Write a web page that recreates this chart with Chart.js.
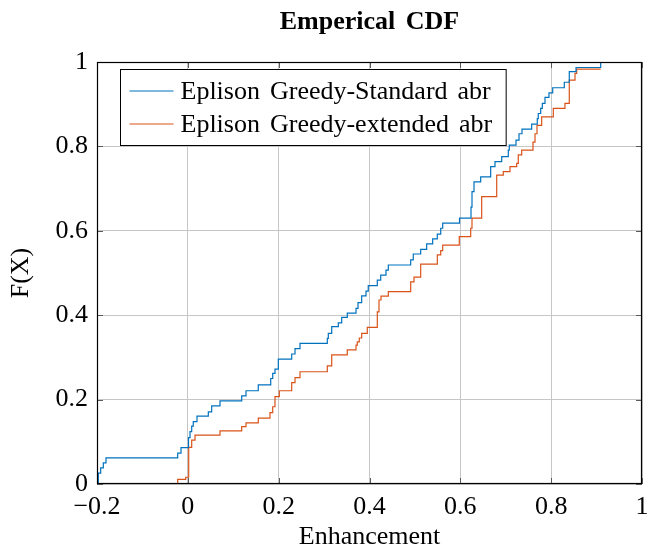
<!DOCTYPE html>
<html><head><meta charset="utf-8">
<script src="https://cdn.jsdelivr.net/npm/chart.js@4/dist/chart.umd.min.js"></script>
<style>html,body{margin:0;padding:0;background:#fff}#wrap{width:647px;height:550px}</style>
</head><body><div id="wrap"><canvas id="c" width="647" height="550"></canvas></div>
<script>
const chartTitle = 'Emperical CDF';
const xAxisTitle = 'Enhancement';
const yAxisTitle = 'F(X)';
const seriesLabels = ['Eplison Greedy-Standard abr', 'Eplison Greedy-extended abr'];
const seriesColors = ['rgb(0,114,189)', 'rgb(217,83,25)'];
const xTickLabels = ['\u22120.2', '0', '0.2', '0.4', '0.6', '0.8', '1'];
const yTickLabels = ['0', '0.2', '0.4', '0.6', '0.8', '1'];

const standardX = [-0.2, -0.1971, -0.1919, -0.1861, -0.1802, -0.0223, -0.0150, 0.0015, 0.0048, 0.0085, 0.0120, 0.0202, 0.0451, 0.0525, 0.0708, 0.1186, 0.1281, 0.1551, 0.1825, 0.1869, 0.1919, 0.1992, 0.2287, 0.2360, 0.2470, 0.3071, 0.3093, 0.3168, 0.3313, 0.3388, 0.3511, 0.3703, 0.3747, 0.3828, 0.3923, 0.3973, 0.4172, 0.4247, 0.4363, 0.4414, 0.4907, 0.4964, 0.5127, 0.5259, 0.5391, 0.5493, 0.5568, 0.5612, 0.5982, 0.6235, 0.6257, 0.6301, 0.6448, 0.6668, 0.6763, 0.6911, 0.7056, 0.7078, 0.7226, 0.7292, 0.7358, 0.7571, 0.7694, 0.7716, 0.7769, 0.7805, 0.7864, 0.7952, 0.8034, 0.8289, 0.8399, 0.8547, 0.9090];
const standardY = [0, 0.026, 0.038, 0.050, 0.062, 0.073, 0.086, 0.110, 0.124, 0.137, 0.148, 0.161, 0.171, 0.185, 0.197, 0.209, 0.221, 0.235, 0.250, 0.262, 0.272, 0.296, 0.308, 0.321, 0.333, 0.345, 0.357, 0.373, 0.382, 0.395, 0.405, 0.416, 0.430, 0.446, 0.457, 0.470, 0.483, 0.495, 0.507, 0.519, 0.531, 0.545, 0.556, 0.569, 0.581, 0.592, 0.606, 0.618, 0.630, 0.656, 0.693, 0.716, 0.728, 0.752, 0.764, 0.776, 0.791, 0.803, 0.815, 0.830, 0.841, 0.853, 0.866, 0.878, 0.890, 0.902, 0.916, 0.927, 0.939, 0.952, 0.977, 0.987, 1.0];

const extendedX = [-0.2, -0.0223, -0.0047, 0.0019, 0.0085, 0.0158, 0.0708, 0.1186, 0.1281, 0.1551, 0.1809, 0.1869, 0.1919, 0.2014, 0.2287, 0.2360, 0.2470, 0.3071, 0.3168, 0.3511, 0.3703, 0.3731, 0.3775, 0.3828, 0.3951, 0.4172, 0.4209, 0.4253, 0.4414, 0.4907, 0.4980, 0.5127, 0.5493, 0.5568, 0.5612, 0.5977, 0.6228, 0.6257, 0.6470, 0.6801, 0.6946, 0.7093, 0.7241, 0.7276, 0.7351, 0.7600, 0.7644, 0.7688, 0.7791, 0.8047, 0.8304, 0.8399, 0.8525, 0.8562, 0.9090];
const extendedY = [0, 0.011, 0.016, 0.087, 0.104, 0.116, 0.126, 0.136, 0.145, 0.156, 0.169, 0.183, 0.207, 0.221, 0.240, 0.252, 0.266, 0.280, 0.306, 0.318, 0.329, 0.337, 0.346, 0.357, 0.371, 0.408, 0.436, 0.445, 0.456, 0.479, 0.490, 0.521, 0.543, 0.553, 0.566, 0.586, 0.606, 0.630, 0.681, 0.732, 0.740, 0.752, 0.760, 0.780, 0.791, 0.810, 0.830, 0.850, 0.870, 0.890, 0.902, 0.957, 0.973, 0.983, 0.983];

const SERIF = '"Liberation Serif", "Times New Roman", serif';
const FS = 26;

function toPoints(xs, ys) { return xs.map((x, i) => ({ x: x, y: ys[i] })); }

const framePlugin = {
  id: 'frameAndLegend',
  afterDatasetsDraw(chart) {
    const { ctx, chartArea: a, scales } = chart;
    const xs = scales.x, ys = scales.y;
    ctx.save();
    // inward tick marks on all four sides
    ctx.strokeStyle = '#5a5a5a';
    ctx.lineWidth = 1;
    const L = 6;
    ctx.beginPath();
    xs.ticks.forEach(t => {
      const px = Math.round(xs.getPixelForValue(t.value)) + 0.5;
      ctx.moveTo(px, a.bottom); ctx.lineTo(px, a.bottom - L);
      ctx.moveTo(px, a.top); ctx.lineTo(px, a.top + L);
    });
    ys.ticks.forEach(t => {
      const py = Math.round(ys.getPixelForValue(t.value)) + 0.5;
      ctx.moveTo(a.left, py); ctx.lineTo(a.left + L, py);
      ctx.moveTo(a.right, py); ctx.lineTo(a.right - L, py);
    });
    ctx.stroke();
    // frame
    ctx.strokeStyle = '#000';
    ctx.lineWidth = 1.2;
    ctx.strokeRect(Math.round(a.left) + 0.5, Math.round(a.top) + 0.5, Math.round(a.width) - 1, Math.round(a.height) - 1);

    // title, centred over the plot area
    ctx.fillStyle = '#000';
    ctx.font = 'bold ' + FS + 'px ' + SERIF;
    ctx.textAlign = 'center';
    ctx.textBaseline = 'middle';
    ctx.wordSpacing = '4px';
    ctx.fillText(chartTitle, (a.left + a.right) / 2, 22);

    // legend box inside the plot
    ctx.font = FS + 'px ' + SERIF;
    ctx.wordSpacing = '3.5px';
    const ds = chart.data.datasets;
    let maxW = 0;
    ds.forEach(d => { maxW = Math.max(maxW, ctx.measureText(d.label).width); });
    const bx = a.left + 23.5, by = a.top + 7.5;
    const lineX0 = bx + 9, lineX1 = bx + 53, textX = bx + 60;
    const bw = (textX - bx) + maxW + 14;
    const bh = 76;
    ctx.fillStyle = '#fff';
    ctx.fillRect(bx, by, bw, bh);
    ctx.strokeStyle = '#000';
    ctx.lineWidth = 1;
    ctx.strokeRect(bx, by, bw, bh);
    const rows = [by + 21.5, by + 54.5];
    ds.forEach((d, i) => {
      ctx.strokeStyle = d.borderColor;
      ctx.lineWidth = 1.2;
      ctx.beginPath();
      ctx.moveTo(lineX0, rows[i]); ctx.lineTo(lineX1, rows[i]);
      ctx.stroke();
      ctx.fillStyle = '#000';
      ctx.textBaseline = 'middle';
      ctx.textAlign = 'left';
      ctx.fillText(d.label, textX, rows[i] + 1);
    });
    ctx.restore();
  }
};

new Chart(document.getElementById('c'), {
  type: 'line',
  data: {
    datasets: [
      { label: seriesLabels[0], data: toPoints(standardX, standardY), borderColor: seriesColors[0], backgroundColor: seriesColors[0], borderWidth: 1.2, pointRadius: 0, stepped: 'before', fill: false },
      { label: seriesLabels[1], data: toPoints(extendedX, extendedY), borderColor: seriesColors[1], backgroundColor: seriesColors[1], borderWidth: 1.2, pointRadius: 0, stepped: 'before', fill: false }
    ]
  },
  options: {
    responsive: false,
    animation: false,
    devicePixelRatio: 1,
    layout: { padding: { left: 0, right: 5, top: 62, bottom: 0 } },
    plugins: {
      legend: { display: false },
      tooltip: { enabled: false },
      title: { display: false }
    },
    scales: {
      x: {
        type: 'linear', min: -0.2, max: 1,
        grid: { color: '#c6c6c6', lineWidth: 1, drawTicks: false },
        border: { display: false },
        ticks: {
          stepSize: 0.2, color: '#000', padding: 8,
          font: { family: SERIF, size: FS, lineHeight: 1.2 },
          maxRotation: 0, autoSkip: false,
          callback: (v, i) => xTickLabels[i]
        },
        title: { display: true, text: xAxisTitle, color: '#000', font: { family: SERIF, size: FS, lineHeight: 1.0 }, padding: { top: -5, bottom: 0 } },
        afterFit: s => { s.height = 66; s.paddingLeft = 0; s.paddingRight = 0; }
      },
      y: {
        type: 'linear', min: 0, max: 1,
        grid: { color: '#c6c6c6', lineWidth: 1, drawTicks: false },
        border: { display: false },
        ticks: {
          stepSize: 0.2, color: '#000', padding: 9,
          font: { family: SERIF, size: FS, lineHeight: 1.2 },
          callback: (v, i) => yTickLabels[i]
        },
        title: { display: true, text: yAxisTitle, color: '#000', font: { family: SERIF, size: FS, lineHeight: 1.2 }, padding: { top: 6, bottom: 0 } },
        afterFit: s => { s.width = 97; s.paddingTop = 0; s.paddingBottom = 0; }
      }
    }
  },
  plugins: [framePlugin]
});
</script>
</body></html>
